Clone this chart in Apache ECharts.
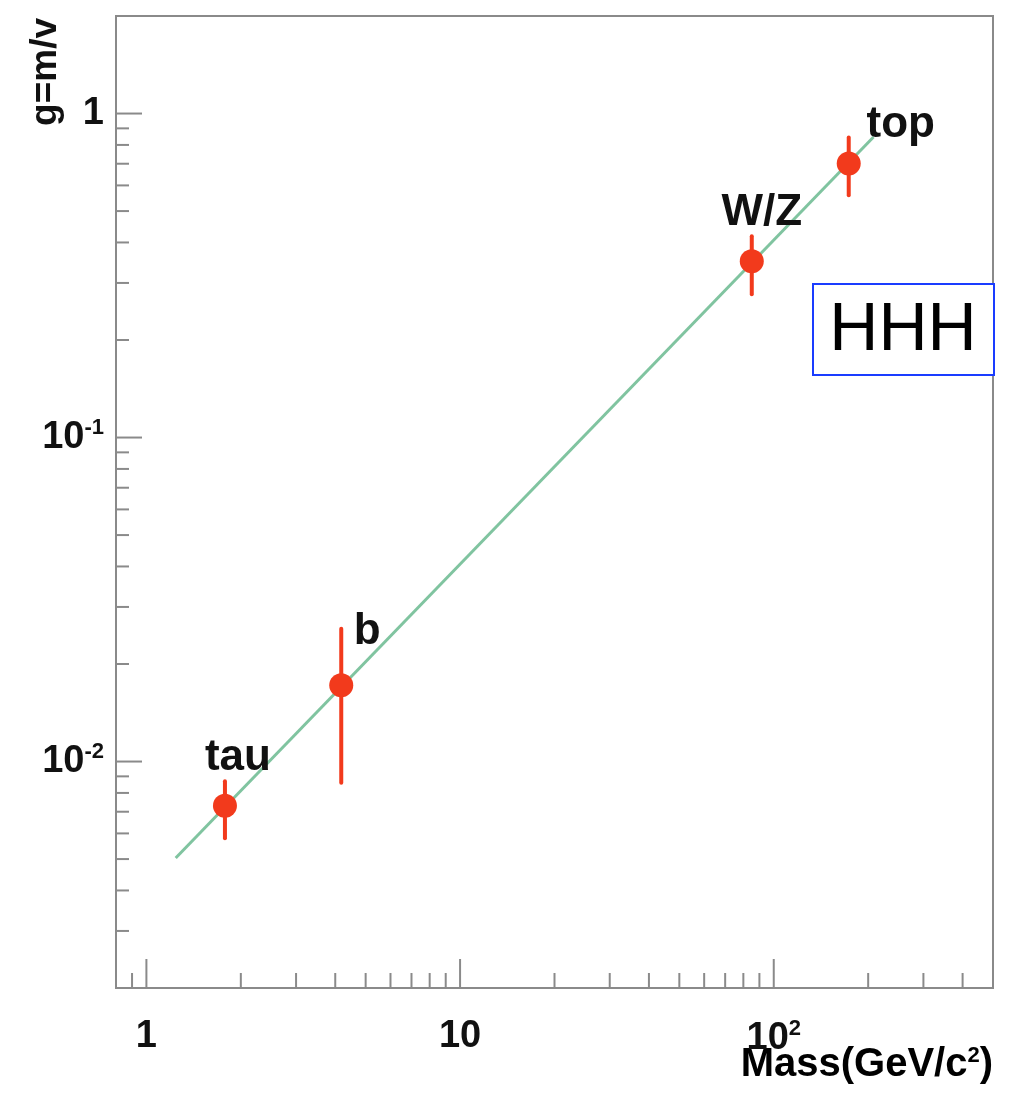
<!DOCTYPE html>
<html>
<head>
<meta charset="utf-8">
<script src="https://cdn.jsdelivr.net/npm/echarts@6/dist/echarts.min.js"></script>
<style>
html, body { margin: 0; padding: 0; background: #fff; }
#chart { width: 1012px; height: 1107px; }
</style>
</head>
<body>
<div id="chart"></div>
<script>
// measured points: g = m / v
var names = ['tau', 'b', 'W/Z', 'top'];
var mass = [1.78, 4.18, 85.1, 173.4];
var coupling = [0.0073, 0.0172, 0.350, 0.701];
var errLow = [0.0058, 0.0086, 0.277, 0.559];
var errHigh = [0.0087, 0.0257, 0.418, 0.843];
var fitLine = [[1.24, 0.00504], [208, 0.846]];

var xRange = [0.8, 500];
var yRange = [0.002, 2];
var xMajorTicks = [1, 10, 100];
var xMinorTicks = [0.9, 2, 3, 4, 5, 6, 7, 8, 9, 20, 30, 40, 50, 60, 70, 80, 90, 200, 300, 400];
var yMajorTicks = [0.01, 0.1, 1];
var yMinorTicks = [0.002, 0.003, 0.004, 0.005, 0.006, 0.007, 0.008, 0.009,
    0.02, 0.03, 0.04, 0.05, 0.06, 0.07, 0.08, 0.09,
    0.2, 0.3, 0.4, 0.5, 0.6, 0.7, 0.8, 0.9];

var FONT = '"Liberation Sans", Arial, Helvetica, sans-serif';
var GREY = '#8a8a8a';
var RED = '#f23a1c';

// label offsets (px) from each point
var labelOffset = [[13, -48], [26, -53], [10, -48], [52, -39]];

function isPow10(v) {
    var l = Math.log(v) / Math.LN10;
    return Math.abs(l - Math.round(l)) < 1e-6 ? Math.round(l) : null;
}

var rich = {
    b: { fontSize: 38, fontWeight: 'bold', fontFamily: FONT, color: '#111' },
    s: { fontSize: 22, fontWeight: 'bold', fontFamily: FONT, color: '#111', verticalAlign: 'top', padding: [0, 0, 20, 0] }
};

function powLabel(v) {
    var e = isPow10(v);
    if (e === null) return '';
    if (e === 0) return '{b|1}';
    if (e === 1) return '{b|10}';
    return '{b|10}{s|' + e + '}';
}

var xTickData = [], yTickData = [];
xMajorTicks.forEach(function (v) { xTickData.push([v, yRange[0], 1]); });
xMinorTicks.forEach(function (v) { xTickData.push([v, yRange[0], 0]); });
yMajorTicks.forEach(function (v) { yTickData.push([xRange[0], v, 1]); });
yMinorTicks.forEach(function (v) { yTickData.push([xRange[0], v, 0]); });

var errData = [], pointData = [];
for (var i = 0; i < names.length; i++) {
    errData.push([mass[i], errLow[i], errHigh[i]]);
    pointData.push({
        name: names[i],
        value: [mass[i], coupling[i]],
        label: { offset: labelOffset[i] }
    });
}

var option = {
    animation: false,
    backgroundColor: '#fff',
    grid: {
        left: 116, right: 19, top: 16, bottom: 119,
        show: true, borderColor: GREY, borderWidth: 2
    },
    xAxis: {
        type: 'log', logBase: 10, min: xRange[0], max: xRange[1],
        splitNumber: 3,
        axisLine: { show: false },
        axisTick: { show: false },
        splitLine: { show: false },
        minorTick: { show: false },
        axisLabel: {
            margin: 30,
            formatter: function (v) { return powLabel(v); },
            rich: rich,
            showMinLabel: false, showMaxLabel: false
        }
    },
    yAxis: {
        type: 'log', logBase: 10, min: yRange[0], max: yRange[1],
        splitNumber: 3,
        axisLine: { show: false },
        axisTick: { show: false },
        splitLine: { show: false },
        axisLabel: {
            margin: 12,
            formatter: function (v) { return powLabel(v); },
            rich: rich,
            showMinLabel: false, showMaxLabel: false
        }
    },
    graphic: [
        {
            type: 'text', x: 46, y: 18, rotation: Math.PI / 2,
            style: { text: 'g=m/v', font: 'bold 37px ' + FONT, fill: '#111', align: 'right', verticalAlign: 'middle' }
        },
        {
            type: 'text', x: 993, y: 1065,
            style: {
                text: '{a|Mass(GeV/c}{s|2}{a|)}', align: 'right', verticalAlign: 'middle',
                rich: {
                    a: { fontSize: 40, fontWeight: 'bold', fontFamily: FONT, color: '#111' },
                    s: { fontSize: 22, fontWeight: 'bold', fontFamily: FONT, color: '#111', verticalAlign: 'top', padding: [0, 0, 18, 0] }
                }
            }
        },
        {
            type: 'rect', z: 100,
            shape: { x: 813, y: 284, width: 181, height: 91 },
            style: { fill: '#fff', stroke: '#1a3cff', lineWidth: 2 }
        },
        {
            type: 'text', z: 101, x: 903, y: 331,
            style: { text: 'HHH', font: '68px ' + FONT, fill: '#000', align: 'center', verticalAlign: 'middle' }
        }
    ],
    series: [
        {
            type: 'custom',
            renderItem: function (params, api) {
                var p = api.coord([api.value(0), api.value(1)]);
                var len = api.value(2) ? 29 : 15;
                return { type: 'line', shape: { x1: p[0], y1: p[1], x2: p[0], y2: p[1] - len },
                    style: { stroke: GREY, lineWidth: 2 } };
            },
            data: xTickData, silent: true
        },
        {
            type: 'custom',
            renderItem: function (params, api) {
                var p = api.coord([api.value(0), api.value(1)]);
                var len = api.value(2) ? 26 : 13;
                return { type: 'line', shape: { x1: p[0], y1: p[1], x2: p[0] + len, y2: p[1] },
                    style: { stroke: GREY, lineWidth: 2 } };
            },
            data: yTickData, silent: true
        },
        {
            type: 'line',
            data: fitLine,
            symbol: 'none',
            lineStyle: { color: '#80c4a0', width: 3 },
            z: 2
        },
        {
            type: 'custom',
            renderItem: function (params, api) {
                var a = api.coord([api.value(0), api.value(1)]);
                var b = api.coord([api.value(0), api.value(2)]);
                return { type: 'line', shape: { x1: a[0], y1: a[1], x2: b[0], y2: b[1] },
                    style: { stroke: RED, lineWidth: 4, lineCap: 'round' } };
            },
            data: errData, z: 3
        },
        {
            type: 'scatter',
            data: pointData,
            symbolSize: 24,
            itemStyle: { color: RED, opacity: 1 },
            label: {
                show: true, position: 'inside', formatter: '{b}',
                fontSize: 44, fontWeight: 'bold', fontFamily: FONT, color: '#111'
            },
            z: 4
        }
    ]
};

var chart = echarts.init(document.getElementById('chart'));
chart.setOption(option);
</script>
</body>
</html>
